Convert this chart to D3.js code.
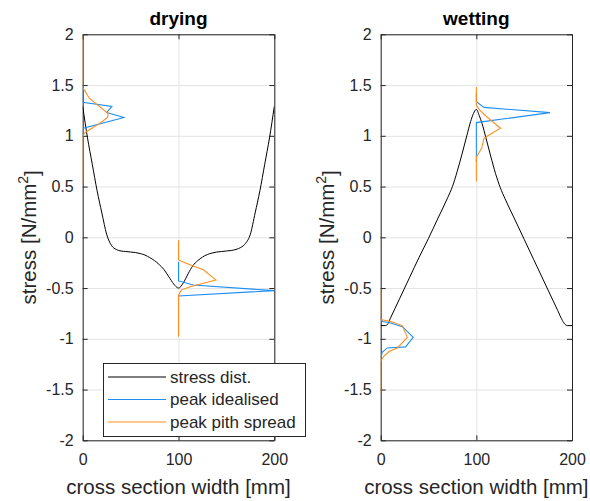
<!DOCTYPE html>
<html>
<head>
<meta charset="utf-8">
<script src="https://cdn.jsdelivr.net/npm/d3@7"></script>
<style>
  body { margin: 0; background: #fff; }
  svg { font-family: "Liberation Sans", Arial, sans-serif; }
</style>
</head>
<body>
<div id="chart"></div>
<script>
// ---- data ----
const xTicks = [0, 100, 200];
const yTicks = [-2, -1.5, -1, -0.5, 0, 0.5, 1, 1.5, 2];

// drying: stress distribution
const dryX = [0,5,10,15,20,25,30,35,40,45,50,55,60,65,70,75,80,85,90,95,100,
              105,110,115,120,125,130,135,140,145,150,155,160,165,170,175,180,185,190,195,200];
const dryStress = [1.29,0.98,0.72,0.46,0.24,0.03,-0.08,-0.12,-0.135,-0.14,-0.145,-0.15,-0.16,-0.175,-0.2,-0.23,-0.27,-0.32,-0.39,-0.46,-0.5,
                   -0.45,-0.36,-0.28,-0.23,-0.195,-0.17,-0.155,-0.145,-0.14,-0.135,-0.13,-0.12,-0.1,-0.06,0.03,0.24,0.46,0.72,0.98,1.29];

// drying: peaks
const dryTopIdealX = [0, 0, 30.5, 25, 43, 0.7, 0];
const dryTopIdealY = [1.5, 1.33, 1.29, 1.23, 1.18, 1.075, 1.0];
const dryTopSpreadX = [0, 0, 1.7, 6.9, 17.4, 26.5, 26, 17.4, 6.9, 1.7, 0, 0];
const dryTopSpreadY = [2, 1.47, 1.45, 1.37, 1.29, 1.22, 1.18, 1.12, 1.06, 1.025, 0.99, 0.53];
const dryBotIdealX = [100, 100, 115.5, 200, 100, 100];
const dryBotIdealY = [-0.24, -0.43, -0.47, -0.525, -0.578, -0.62];
const dryBotSpreadX = [100, 100, 103, 112, 126, 139, 112, 103, 100, 100];
const dryBotSpreadY = [-0.03, -0.22, -0.235, -0.27, -0.32, -0.42, -0.487, -0.52, -0.57, -0.98];

// wetting: stress distribution
const wetX = [0,5,7,10,15,20,25,30,40,50,60,70,75,80,85,90,94,97,100,
              103,106,110,115,120,125,130,140,150,160,170,175,180,185,190,193,195,200];
const wetStress = [-0.87,-0.87,-0.86,-0.8,-0.7,-0.6,-0.5,-0.4,-0.2,-0.01,0.19,0.39,0.5,0.65,0.82,1.0,1.14,1.22,1.26,
                   1.2,1.12,0.98,0.8,0.63,0.49,0.38,0.18,-0.02,-0.22,-0.42,-0.52,-0.62,-0.72,-0.82,-0.86,-0.87,-0.87];

// wetting: peaks
const wetTopIdealX = [100, 100, 108, 177, 100, 100];
const wetTopIdealY = [1.42, 1.335, 1.28, 1.228, 1.13, 0.745];
const wetTopSpreadX = [100, 100, 103.6, 110.5, 125.3, 113.6, 108, 105.5, 100.2, 100, 100];
const wetTopSpreadY = [1.48, 1.30, 1.254, 1.19, 1.074, 1.01, 0.975, 0.876, 0.795, 0.76, 0.55];
const wetBotIdealX = [0, 0, 1.7, 8.7, 22.6, 34, 26, 6.9, 1.7, 0];
const wetBotIdealY = [-0.78, -0.8, -0.83, -0.84, -0.88, -0.985, -1.08, -1.09, -1.13, -1.19];
const wetBotSpreadX = [0, 0, 10.4, 22.6, 27.8, 17.4, 8.7, 3.4, 0, 0];
const wetBotSpreadY = [-0.52, -0.81, -0.83, -0.87, -0.985, -1.09, -1.125, -1.17, -1.22, -1.53];

const legendLabels = ["stress dist.", "peak idealised", "peak pith spread"];
const colors = ["#000000", "#1f8ef1", "#ff8f1f"];

// ---- drawing ----
const W = 590, H = 501;
const axisColor = "#262626";
const plotTop = 34.3, plotBottom = 440.3;

const svg = d3.select("#chart").append("svg")
  .attr("width", W).attr("height", H);

const zip = (xs, ys) => xs.map((x, i) => [x, ys[i]]);

function panel(id, left, right, title, stress, peaks) {
  const x = d3.scaleLinear().domain([0, 200]).range([left, right]);
  const y = d3.scaleLinear().domain([-2, 2]).range([plotBottom, plotTop]);
  const g = svg.append("g");

  g.append("clipPath").attr("id", "clip" + id)
    .append("rect").attr("x", left).attr("y", plotTop)
    .attr("width", right - left).attr("height", plotBottom - plotTop);

  // grid
  g.append("g").attr("transform", `translate(0,${plotBottom})`)
    .call(d3.axisBottom(x).tickValues(xTicks).tickSize(-(plotBottom - plotTop)).tickFormat(""))
    .call(a => a.select(".domain").remove())
    .selectAll("line").attr("stroke", "#e3e3e3");
  g.append("g").attr("transform", `translate(${left},0)`)
    .call(d3.axisLeft(y).tickValues(yTicks).tickSize(-(right - left)).tickFormat(""))
    .call(a => a.select(".domain").remove())
    .selectAll("line").attr("stroke", "#e3e3e3");

  // axes with inward ticks on every side
  const xb = g.append("g").attr("transform", `translate(0,${plotBottom})`)
    .call(d3.axisBottom(x).tickValues(xTicks).tickSize(-5).tickSizeOuter(0).tickPadding(13).tickFormat(d => String(d)));
  const xt = g.append("g").attr("transform", `translate(0,${plotTop})`)
    .call(d3.axisTop(x).tickValues(xTicks).tickSize(-5).tickSizeOuter(0).tickFormat(""));
  const yl = g.append("g").attr("transform", `translate(${left},0)`)
    .call(d3.axisLeft(y).tickValues(yTicks).tickSize(-5).tickSizeOuter(0).tickPadding(9).tickFormat(d => String(d)));
  const yr = g.append("g").attr("transform", `translate(${right},0)`)
    .call(d3.axisRight(y).tickValues(yTicks).tickSize(-5).tickSizeOuter(0).tickFormat(""));
  [xb, xt, yl, yr].forEach(a => {
    a.select(".domain").attr("stroke", axisColor);
    a.selectAll(".tick line").attr("stroke", axisColor);
    a.selectAll("text").attr("fill", axisColor).style("font-size", "16px")
      .style("font-family", "'Liberation Sans', Arial, sans-serif");
  });
  xb.selectAll("text").attr("dy", "0.71em");

  // data
  const plot = g.append("g").attr("clip-path", `url(#clip${id})`);
  const smooth = d3.line().x(d => x(d[0])).y(d => y(d[1])).curve(d3.curveMonotoneX);
  const straight = d3.line().x(d => x(d[0])).y(d => y(d[1]));
  plot.append("path").datum(stress).attr("d", smooth)
    .attr("fill", "none").attr("stroke", colors[0]).attr("stroke-width", 1);
  peaks.forEach(p => {
    plot.append("path").datum(p.pts).attr("d", straight)
      .attr("fill", "none").attr("stroke", colors[p.c]).attr("stroke-width", 1.1);
  });

  // title and labels
  g.append("text").attr("x", (left + right) / 2).attr("y", 25)
    .attr("text-anchor", "middle").style("font-size", "19px").style("font-weight", "bold")
    .attr("fill", "#000").text(title);
  g.append("text").attr("x", (left + right) / 2).attr("y", 494)
    .attr("text-anchor", "middle").style("font-size", "20.5px")
    .attr("fill", axisColor).text("cross section width [mm]");
  const yt = g.append("text")
    .attr("transform", `translate(${left - 54},${(plotTop + plotBottom) / 2}) rotate(-90)`)
    .attr("text-anchor", "middle").attr("dy", "0.35em").style("font-size", "20.5px")
    .attr("fill", axisColor);
  yt.append("tspan").text("stress [N/mm");
  yt.append("tspan").attr("dy", "-0.55em").style("font-size", "14px").text("2");
  yt.append("tspan").attr("dy", "0.55em").text("]");

  return { x, y, g };
}

panel("a", 82.7, 274.3, "drying", zip(dryX, dryStress), [
  { c: 1, pts: zip(dryTopIdealX, dryTopIdealY) },
  { c: 1, pts: zip(dryBotIdealX, dryBotIdealY) },
  { c: 2, pts: zip(dryTopSpreadX, dryTopSpreadY) },
  { c: 2, pts: zip(dryBotSpreadX, dryBotSpreadY) }
]);

panel("b", 380.7, 572, "wetting", zip(wetX, wetStress), [
  { c: 1, pts: zip(wetTopIdealX, wetTopIdealY) },
  { c: 1, pts: zip(wetBotIdealX, wetBotIdealY) },
  { c: 2, pts: zip(wetTopSpreadX, wetTopSpreadY) },
  { c: 2, pts: zip(wetBotSpreadX, wetBotSpreadY) }
]);

// legend (sits over the left axes, spilling past its right edge)
const lg = svg.append("g");
lg.append("rect").attr("x", 103.5).attr("y", 363.5).attr("width", 202).attr("height", 73)
  .attr("fill", "#fff").attr("stroke", axisColor).attr("stroke-width", 1);
const rowY = d3.scalePoint().domain(legendLabels).range([377, 422]);
legendLabels.forEach((lab, i) => {
  lg.append("line").attr("x1", 108).attr("x2", 166)
    .attr("y1", rowY(lab)).attr("y2", rowY(lab))
    .attr("stroke", colors[i]).attr("stroke-width", 1);
  lg.append("text").attr("x", 170).attr("y", rowY(lab)).attr("dy", "0.35em")
    .style("font-size", "17px").attr("fill", axisColor).text(lab);
});
</script>
</body>
</html>
